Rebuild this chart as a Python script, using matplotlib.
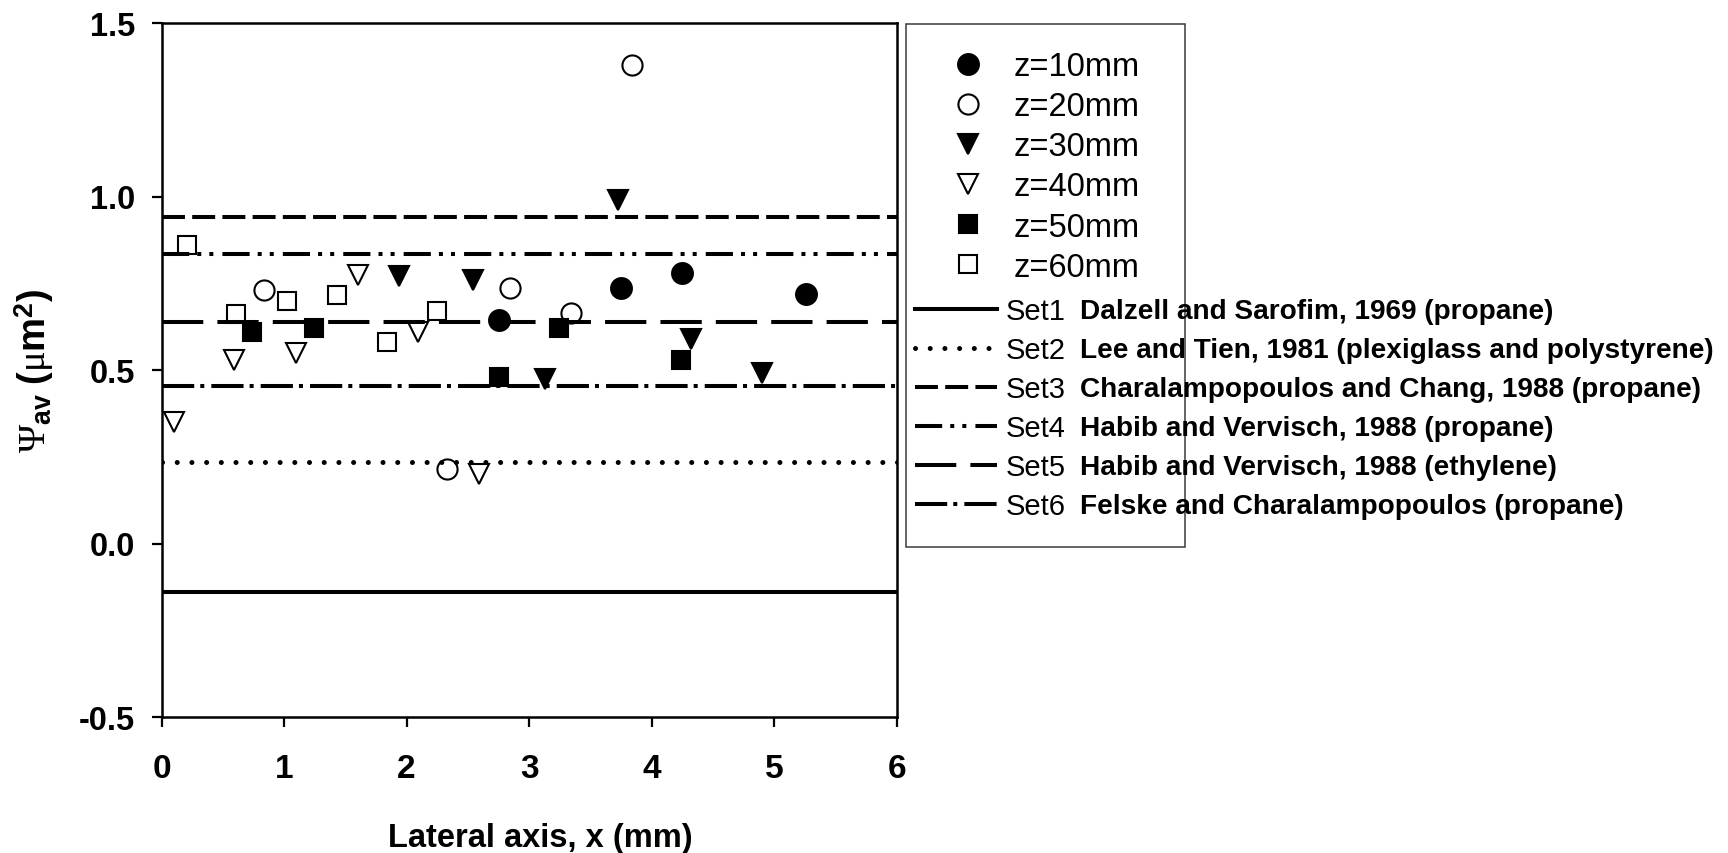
import matplotlib
matplotlib.use("Agg")
import matplotlib.pyplot as plt
from matplotlib.lines import Line2D
from matplotlib.patches import Rectangle
from matplotlib import font_manager as fm

# ---------------------------------------------------------------- data
x_z10 = [2.75, 3.75, 4.25, 5.26]
y_z10 = [0.645, 0.735, 0.78, 0.72]

x_z20 = [0.84, 2.33, 2.84, 3.34, 3.84]
y_z20 = [0.73, 0.215, 0.735, 0.665, 1.38]

x_z30 = [1.94, 2.54, 3.13, 3.72, 4.32, 4.90]
y_z30 = [0.77, 0.76, 0.475, 0.99, 0.59, 0.49]

x_z40 = [0.10, 0.59, 1.10, 1.60, 2.09, 2.59]
y_z40 = [0.35, 0.53, 0.55, 0.775, 0.61, 0.20]

x_z50 = [0.74, 1.24, 2.75, 3.24, 4.24]
y_z50 = [0.61, 0.62, 0.48, 0.62, 0.53]

x_z60 = [0.21, 0.61, 1.02, 1.43, 1.84, 2.25]
y_z60 = [0.86, 0.66, 0.70, 0.715, 0.58, 0.67]

series_labels = ["z=10mm", "z=20mm", "z=30mm", "z=40mm", "z=50mm", "z=60mm"]

ref_names = ["Set1", "Set2", "Set3", "Set4", "Set5", "Set6"]
ref_values = [-0.14, 0.235, 0.94, 0.835, 0.637, 0.455]
ref_sources = [
    "Dalzell and Sarofim, 1969 (propane)",
    "Lee and Tien, 1981 (plexiglass and polystyrene)",
    "Charalampopoulos and Chang, 1988 (propane)",
    "Habib and Vervisch, 1988 (propane)",
    "Habib and Vervisch, 1988 (ethylene)",
    "Felske and Charalampopoulos (propane)",
]

x_ticks = [0, 1, 2, 3, 4, 5, 6]
y_ticks = [-0.5, 0.0, 0.5, 1.0, 1.5]

# ---------------------------------------------------------------- style
plt.rcParams["font.family"] = ["Liberation Sans", "DejaVu Sans"]
plt.rcParams["mathtext.fontset"] = "custom"
plt.rcParams["mathtext.rm"] = "Liberation Serif"
plt.rcParams["mathtext.it"] = "Liberation Serif:italic"
plt.rcParams["mathtext.bf"] = "Liberation Sans:bold"
plt.rcParams["mathtext.sf"] = "Liberation Sans"

available = {f.name for f in fm.fontManager.ttflist}
if "Liberation Sans Narrow" in available:
    desc_family, desc_size = "Liberation Sans Narrow", 23.5
else:
    desc_family, desc_size = "Liberation Sans", 20.2

LW = 2.9
line_styles = [
    dict(linestyle="-", lw=LW),
    dict(linestyle=(0, (0.01, 2.93)), lw=3.6, dash_capstyle="round"),
    dict(linestyle=(0, (5.7, 1.8)), lw=LW),
    dict(linestyle=(0, (6.75, 2.0, 1.0, 2.0, 1.0, 2.25)), lw=LW),
    dict(linestyle=(0, (10.25, 3.5)), lw=LW),
    dict(linestyle=(0, (8.0, 1.5, 1.0, 1.75)), lw=LW),
]

marker_styles = [
    dict(marker="o", ms=15, mfc="black"),
    dict(marker="o", ms=14.5, mfc="none"),
    dict(marker="v", ms=15, mfc="black"),
    dict(marker="v", ms=15, mfc="none"),
    dict(marker="s", ms=13.5, mfc="black"),
    dict(marker="s", ms=13.5, mfc="none"),
]
MEW = 1.5

# ---------------------------------------------------------------- figure
W, H = 1728, 854
fig = plt.figure(figsize=(W / 100, H / 100), dpi=100)
ax = fig.add_axes([161.5 / W, 1 - 718 / H, (897 - 161.5) / W, (718 - 24) / H])

# reference lines from the literature
for val, st in zip(ref_values, line_styles):
    ax.axhline(val, color="black", zorder=2, **st)

# measured points
xs = [x_z10, x_z20, x_z30, x_z40, x_z50, x_z60]
ys = [y_z10, y_z20, y_z30, y_z40, y_z50, y_z60]
for x, y, st in zip(xs, ys, marker_styles):
    ax.plot(x, y, linestyle="none", mec="black", mew=MEW, zorder=3, **st)

ax.set_xlim(0, 6)
ax.set_ylim(-0.5, 1.5)
ax.set_xticks(x_ticks)
ax.set_yticks(y_ticks)
ax.set_xticklabels([str(t) for t in x_ticks])
ax.set_yticklabels([f"{t:.1f}" for t in y_ticks])

for s in ax.spines.values():
    s.set_linewidth(1.8)
ax.tick_params(direction="out", length=7.2, width=1.6, top=False, right=False)
ax.tick_params(axis="x", pad=19, labelsize=24)
ax.tick_params(axis="y", pad=12, labelsize=23.5)
for lab in ax.get_xticklabels() + ax.get_yticklabels():
    lab.set_fontweight("bold")

ax.set_xlabel("Lateral axis, x (mm)", fontsize=23.5, fontweight="bold")
ax.xaxis.set_label_coords(0.515, -0.186)
ax.xaxis.label.set_verticalalignment("baseline")

ax.set_ylabel(r"$\mathrm{\Psi}_{\mathbf{av}}\ \mathbf{(}\mathrm{\mu}\mathbf{m}^{\mathbf{2}}\mathbf{)}$",
              fontsize=27.5)
ax.yaxis.set_label_coords(-0.173, 0.5)
ax.yaxis.label.set_verticalalignment("center")

# ---------------------------------------------------------------- legend
marker_handles = [Line2D([], [], linestyle="none", color="black", mec="black",
                         mew=MEW, **st) for st in marker_styles]
line_handles = [Line2D([], [], color="black", **st) for st in line_styles]

leg_pts = ax.legend(marker_handles, series_labels, loc="upper left",
                    bbox_to_anchor=(943.5 / W, 1 - 52 / H),
                    bbox_transform=fig.transFigure,
                    frameon=False, borderpad=0, borderaxespad=0,
                    handlelength=1.5, handletextpad=0.66, labelspacing=0.28,
                    fontsize=23.5, numpoints=1)
ax.add_artist(leg_pts)

leg_sets = ax.legend(line_handles, ref_names, loc="upper left",
                     bbox_to_anchor=(915 / W, 1 - 298 / H),
                     bbox_transform=fig.transFigure,
                     frameon=False, borderpad=0, borderaxespad=0,
                     handlelength=2.8, handletextpad=0.31, labelspacing=0.377,
                     fontsize=21)

fig.add_artist(Rectangle((906 / W, 1 - 548 / H), (1185 - 906) / W, (548 - 25) / H,
                         transform=fig.transFigure, fill=False,
                         edgecolor="#3a3a3a", lw=1.1))

# source descriptions next to each reference set
fig.canvas.draw()
renderer = fig.canvas.get_renderer()
for txt, src in zip(leg_sets.get_texts(), ref_sources):
    bb = txt.get_window_extent(renderer)
    yc = (bb.y0 + bb.y1) / 2
    fig.text(1080 / W, yc / H, src, ha="left", va="center",
             fontsize=desc_size, fontweight="bold", family=desc_family)

fig.savefig("out.png", dpi=100)
